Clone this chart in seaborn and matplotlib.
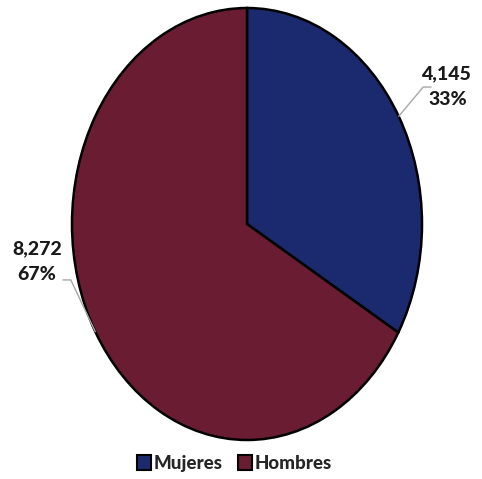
import numpy as np
import seaborn as sns
import matplotlib.pyplot as plt
from matplotlib.patches import Patch

sns.set_theme(style="white")
plt.rcParams['font.family'] = ['Lato', 'DejaVu Sans']

categorias = ['Mujeres', 'Hombres']
valores = [4145, 8272]
colores = ['#1B2A6E', '#6A1C33']

fig = plt.figure(figsize=(4.82, 4.79), dpi=100)
ax = fig.add_axes([72 / 482, 39 / 479, 350 / 482, 432 / 479])

wedges, _ = ax.pie(valores, colors=colores, startangle=90, counterclock=False,
                   wedgeprops=dict(edgecolor='black', linewidth=1.8))
ax.set_aspect('auto')
ax.set_xlim(-1, 1)
ax.set_ylim(-1, 1)
ax.axis('off')

total = sum(valores)
lado = [1, -1]
pos_txt = [(1.145, 0.635), (-1.20, -0.175)]
y_codo = [0.634, -0.259]
for w, v, s, (tx, ty), yc in zip(wedges, valores, lado, pos_txt, y_codo):
    ang = np.deg2rad((w.theta1 + w.theta2) / 2)
    x0, y0 = np.cos(ang), np.sin(ang)
    xk = x0 + s * 0.14
    ax.plot([x0, xk, xk + s * 0.045], [y0, yc, yc], color='#A6A6A6', lw=1,
            clip_on=False)
    pct = round(v / total * 100)
    ax.text(tx, ty, f"{v:,}\n{pct}%", ha='center', va='center', fontsize=14,
            fontweight='black', color='#1a1a1a', linespacing=1.6)

handles = [Patch(facecolor=c, edgecolor='black', linewidth=1.5) for c in colores]
fig.legend(handles, categorias, loc='center', bbox_to_anchor=(0.487, 0.033),
           ncol=2, frameon=False, handlelength=0.75, handleheight=0.9,
           handletextpad=0.15, columnspacing=0.8,
           prop=dict(size=13.5, weight='black'))

fig.savefig('out.png', dpi=100)
